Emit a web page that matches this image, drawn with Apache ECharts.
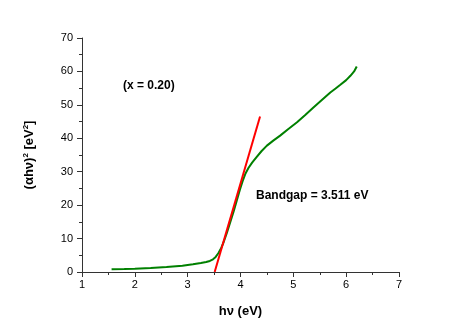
<!DOCTYPE html>
<html>
<head>
<meta charset="utf-8">
<script src="https://cdn.jsdelivr.net/npm/echarts@6/dist/echarts.min.js"></script>
<style>
  html, body { margin: 0; padding: 0; background: #fff; }
  #chart { width: 463px; height: 327px; }
</style>
</head>
<body>
<div id="chart"></div>
<script>
  // measured curve, photon energy (eV) vs (αhν)^2
  var hvValues = [1.56, 1.8, 2.0, 2.3, 2.6, 2.9, 3.1, 3.25, 3.35, 3.42, 3.48, 3.53, 3.58, 3.63, 3.68, 3.74, 3.80, 3.87, 3.93, 3.99, 4.04, 4.09, 4.15, 4.22, 4.30, 4.40, 4.50, 4.62, 4.75, 4.90, 5.07, 5.22, 5.38, 5.55, 5.70, 5.80, 5.89, 6.00, 6.08, 6.15, 6.20];
  var absValues = [0.8, 0.9, 1.0, 1.2, 1.5, 1.9, 2.3, 2.7, 3.0, 3.3, 3.8, 4.5, 5.6, 7.0, 8.9, 11.6, 14.6, 18.1, 21.4, 24.7, 27.2, 29.3, 31.1, 32.7, 34.3, 36.2, 37.8, 39.3, 40.8, 42.7, 44.8, 46.9, 49.2, 51.6, 53.7, 54.9, 56.0, 57.4, 58.7, 60.0, 61.5];
  // linear fit (tangent) end points
  var fitX = [3.511, 4.37];
  var fitY = [0, 46.5];
  var xTicks = [1, 2, 3, 4, 5, 6, 7];
  var yTicks = [0, 10, 20, 30, 40, 50, 60, 70];

  var curve = hvValues.map(function (x, i) { return [x, absValues[i]]; });
  var fit = fitX.map(function (x, i) { return [x, fitY[i]]; });

  var font = 'Liberation Sans, Arial, sans-serif';
  var chart = echarts.init(document.getElementById('chart'));
  var option = {
    animation: false,
    grid: { left: 82, right: 64, top: 38, bottom: 55 },
    xAxis: {
      type: 'value',
      min: xTicks[0], max: xTicks[xTicks.length - 1], interval: 1,
      name: 'hν (eV)',
      nameLocation: 'middle',
      nameGap: 33,
      nameTextStyle: { fontFamily: font, fontWeight: 'bold', fontSize: 13, color: '#000' },
      axisLine: { lineStyle: { color: '#333', width: 1 } },
      axisTick: { length: 5, lineStyle: { color: '#333' } },
      minorTick: { show: true, splitNumber: 2, length: 3, lineStyle: { color: '#333' } },
      axisLabel: { fontFamily: font, fontSize: 11, color: '#000', margin: 7 },
      splitLine: { show: false }
    },
    yAxis: {
      type: 'value',
      min: yTicks[0], max: yTicks[yTicks.length - 1], interval: 10,
      name: '(αhν){sup|2} [eV{sup|2}]',
      nameLocation: 'middle',
      nameRotate: 90,
      nameGap: 46,
      nameTextStyle: {
        fontFamily: font, fontWeight: 'bold', fontSize: 13, color: '#000',
        rich: { sup: { fontFamily: font, fontWeight: 'bold', fontSize: 8, color: '#000', verticalAlign: 'top', padding: [0, 0, 6, 0] } }
      },
      axisLine: { show: true, lineStyle: { color: '#333', width: 1 } },
      axisTick: { show: true, length: 5, lineStyle: { color: '#333' } },
      minorTick: { show: true, splitNumber: 2, length: 3, lineStyle: { color: '#333' } },
      axisLabel: { fontFamily: font, fontSize: 11, color: '#000', margin: 9 },
      splitLine: { show: false }
    },
    graphic: [
      { type: 'text', left: 123, top: 80, style: { text: '(x = 0.20)', font: 'bold 12px ' + font, fill: '#000' } },
      { type: 'text', left: 256, top: 190, style: { text: 'Bandgap = 3.511 eV', font: 'bold 12px ' + font, fill: '#000' } }
    ],
    series: [
      {
        type: 'line', data: curve, symbol: 'none', smooth: false,
        lineStyle: { color: '#008000', width: 2 }, z: 2
      },
      {
        type: 'line', data: fit, symbol: 'none',
        lineStyle: { color: '#ff0000', width: 2 }, z: 3
      }
    ]
  };
  chart.setOption(option);
</script>
</body>
</html>
